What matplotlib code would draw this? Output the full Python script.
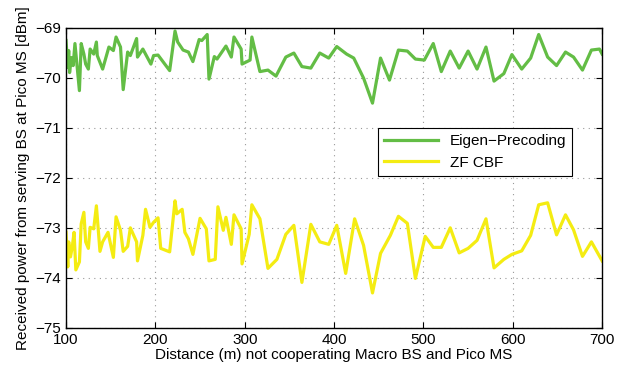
import matplotlib
matplotlib.use("Agg")
import matplotlib.pyplot as plt

plt.rcParams['font.family'] = ['Liberation Sans', 'DejaVu Sans']

# Eigen-Precoding (green)
eig_x = [100, 102, 103, 104, 106, 108, 110, 115, 117, 120, 122, 125, 127, 131, 134, 135,
         141, 148, 153, 156, 161, 164, 169, 172, 179, 180, 186, 195, 198, 203, 216, 222,
         225, 231, 237, 242, 249, 252, 258, 260, 266, 269, 279, 285, 288, 296, 297, 306,
         308, 317, 326, 335, 346, 355, 364, 374, 384, 394, 403, 414, 422, 433, 443, 452,
         462, 472, 482, 491, 501, 511, 520, 530, 540, 550, 560, 570, 579, 590, 599, 610,
         620, 629, 639, 649, 659, 668, 678, 688, 697, 700]
eig_y = [-69.26, -69.80, -69.46, -69.90, -69.60, -69.76, -69.32, -70.26, -69.32, -69.53,
         -69.73, -69.83, -69.43, -69.53, -69.29, -69.56, -69.83, -69.39, -69.46, -69.19,
         -69.39, -70.24, -69.49, -69.56, -69.22, -69.59, -69.43, -69.73, -69.56, -69.55,
         -69.86, -69.07, -69.29, -69.45, -69.49, -69.68, -69.24, -69.26, -69.14, -70.03,
         -69.58, -69.63, -69.37, -69.59, -69.19, -69.43, -69.73, -69.65, -69.19, -69.88,
         -69.85, -69.97, -69.59, -69.51, -69.78, -69.81, -69.51, -69.61, -69.38, -69.53,
         -69.61, -70.01, -70.51, -69.61, -70.05, -69.45, -69.47, -69.63, -69.65, -69.32,
         -69.88, -69.47, -69.81, -69.47, -69.83, -69.39, -70.07, -69.92, -69.54, -69.83,
         -69.61, -69.14, -69.59, -69.76, -69.49, -69.59, -69.85, -69.45, -69.43, -69.53]

# ZF CBF (yellow)
zf_x = [100, 102, 103, 105, 107, 109, 111, 115, 117, 120, 122, 125, 127, 131, 134, 138,
        141, 147, 153, 156, 161, 164, 169, 172, 179, 180, 186, 189, 194, 198, 203, 206,
        216, 222, 224, 230, 233, 237, 242, 250, 257, 260, 267, 270, 276, 279, 285, 288,
        296, 297, 305, 308, 317, 326, 336, 346, 355, 364, 374, 384, 394, 403, 413, 423,
        433, 443, 452, 463, 472, 482, 491, 502, 511, 520, 530, 540, 550, 560, 570, 579,
        590, 599, 610, 620, 629, 639, 649, 659, 668, 678, 688, 700]
zf_y = [-73.09, -73.78, -73.28, -73.58, -73.38, -73.09, -73.84, -73.68, -72.92, -72.69,
        -73.28, -73.41, -72.99, -73.02, -72.56, -73.47, -73.28, -73.09, -73.59, -72.78,
        -73.05, -73.47, -73.37, -73.00, -73.28, -73.66, -73.15, -72.63, -72.99, -72.89,
        -72.80, -73.41, -73.48, -72.46, -72.72, -72.63, -73.09, -73.22, -73.53, -72.81,
        -73.02, -73.66, -73.63, -72.58, -73.05, -72.79, -73.33, -72.74, -73.02, -73.72,
        -73.13, -72.54, -72.82, -73.81, -73.63, -73.13, -72.95, -74.09, -72.93, -73.28,
        -73.33, -72.95, -73.91, -72.82, -73.35, -74.30, -73.51, -73.15, -72.77, -72.91,
        -74.01, -73.17, -73.39, -73.39, -73.00, -73.50, -73.41, -73.25, -72.82, -73.80,
        -73.63, -73.53, -73.46, -73.15, -72.54, -72.50, -73.14, -72.74, -73.04, -73.57,
        -73.28, -73.66]

fig = plt.figure(figsize=(6.44, 3.77), dpi=100)
ax = fig.add_axes([0.1025, 0.130, 0.8325, 0.797])

ax.plot(eig_x, eig_y, color='#63bd45', lw=2.3, label='Eigen\u2212Precoding')
ax.plot(zf_x, zf_y, color='#f4ec12', lw=2.3, label='ZF CBF')

ax.set_xlim(100, 700)
ax.set_ylim(-75, -69)
ax.set_xticks(range(100, 701, 100))
ax.set_yticks(range(-75, -68))
ax.grid(True, linestyle=(0, (1, 4)), color='#999999', lw=0.8)
ax.tick_params(direction='in', top=True, right=True, labelsize=11, length=4)
for s in ax.spines.values():
    s.set_linewidth(1.0)

ax.set_xlabel('Distance (m) not cooperating Macro BS and Pico MS', fontsize=11, labelpad=1)
ax.set_ylabel('Received power from serving BS at Pico MS [dBm]', fontsize=11, labelpad=4)

leg = ax.legend(loc='upper left', bbox_to_anchor=(0.582, 0.666), fontsize=11,
                handlelength=3.5, fancybox=False, framealpha=1, borderaxespad=0)
leg.get_frame().set_edgecolor('black')
leg.get_frame().set_linewidth(0.8)

fig.savefig('out.png', dpi=100)
